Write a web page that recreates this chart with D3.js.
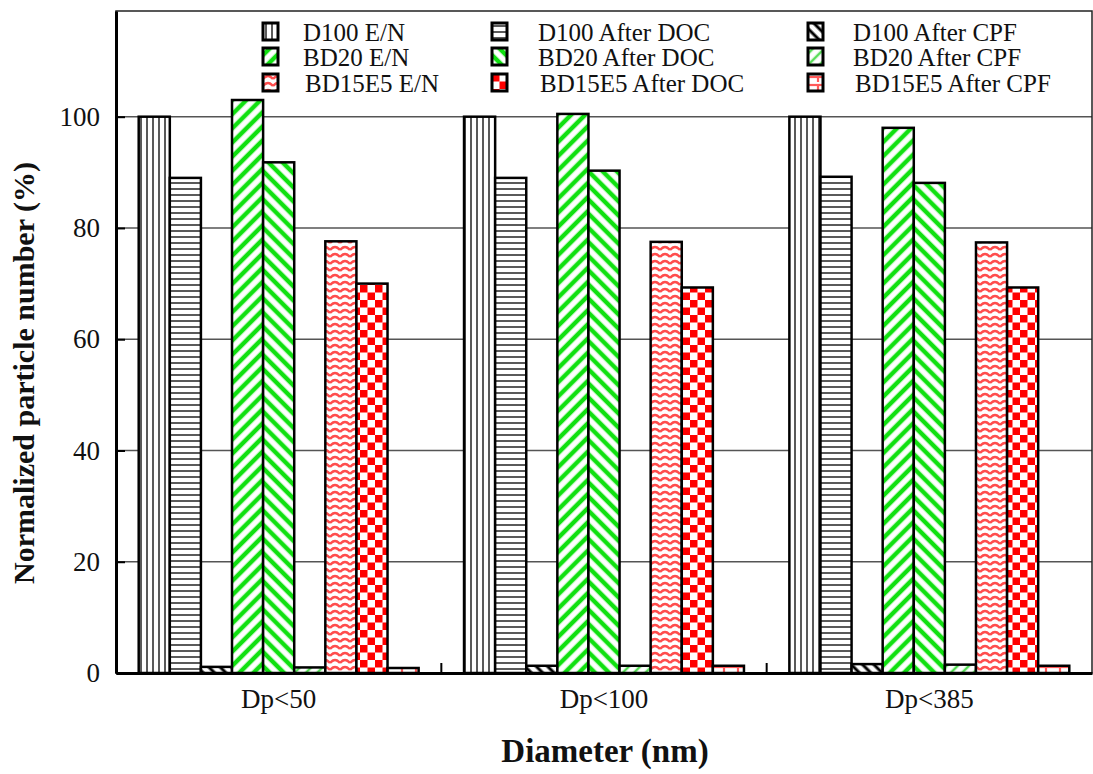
<!DOCTYPE html>
<html>
<head>
<meta charset="utf-8">
<script src="https://cdn.jsdelivr.net/npm/d3@7"></script>
<style>
	body { margin: 0; background: #fff; }
	svg { display: block; }
	text { font-family: 'Liberation Serif', 'Times New Roman', serif; fill: #111; }
</style>
</head>
<body>
<div id="chart"></div>
<script>
const categories = ['Dp<50', 'Dp<100', 'Dp<385'];
const seriesNames = [
	'D100 E/N', 'D100 After DOC', 'D100 After CPF',
	'BD20 E/N', 'BD20 After DOC', 'BD20 After CPF',
	'BD15E5 E/N', 'BD15E5 After DOC', 'BD15E5 After CPF'
];
const d100EN = [100, 100, 100];
const d100DOC = [89.0, 89.0, 89.2];
const d100CPF = [1.1, 1.3, 1.6];
const bd20EN = [103.0, 100.5, 98.0];
const bd20DOC = [91.8, 90.3, 88.1];
const bd20CPF = [1.0, 1.3, 1.5];
const bd15EN = [77.6, 77.5, 77.4];
const bd15DOC = [70.0, 69.3, 69.3];
const bd15CPF = [0.9, 1.3, 1.3];
const yTicks = [0, 20, 40, 60, 80, 100];

const seriesValues = [d100EN, d100DOC, d100CPF, bd20EN, bd20DOC, bd20CPF, bd15EN, bd15DOC, bd15CPF];

const width = 1093;
const height = 774;
const margin = { top: 11, right: 1, bottom: 101, left: 116 };

const svg = d3
	.select('#chart')
	.append('svg')
	.attr('width', width)
	.attr('height', height);

// patterns, one per series
const defs = svg.append('defs');

function stripePattern(id, size, color, strokeW, angle) {
	const p = defs
		.append('pattern')
		.attr('id', id)
		.attr('patternUnits', 'userSpaceOnUse')
		.attr('width', size)
		.attr('height', size)
		.attr('patternTransform', `rotate(${angle})`);
	p.append('rect').attr('width', size).attr('height', size).attr('fill', '#fff');
	p
		.append('line')
		.attr('x1', size / 2)
		.attr('x2', size / 2)
		.attr('y1', 0)
		.attr('y2', size)
		.attr('stroke', color)
		.attr('stroke-width', strokeW);
	return p;
}

stripePattern('pat0', 6, '#5a5a5a', 2, 0); // vertical
stripePattern('pat1', 6, '#5a5a5a', 2, 90); // horizontal
stripePattern('pat2', 8, '#000', 3, -45); // backslash
stripePattern('pat3', 10, '#11e011', 4.5, 45); // slash
stripePattern('pat4', 10, '#11e011', 4.5, -45); // backslash
stripePattern('pat5', 8, '#55dd55', 2.5, 45);

// wavy
const wave = defs
	.append('pattern')
	.attr('id', 'pat6')
	.attr('patternUnits', 'userSpaceOnUse')
	.attr('width', 10)
	.attr('height', 7);
wave.append('rect').attr('width', 10).attr('height', 7).attr('fill', '#fff');
wave
	.append('path')
	.attr('d', 'M0,5 Q5,-1 10,5')
	.attr('fill', 'none')
	.attr('stroke', '#ff4d4d')
	.attr('stroke-width', 2.4);

// checkerboard
const check = defs
	.append('pattern')
	.attr('id', 'pat7')
	.attr('patternUnits', 'userSpaceOnUse')
	.attr('width', 15)
	.attr('height', 15);
check.append('rect').attr('width', 15).attr('height', 15).attr('fill', '#fff');
check.append('rect').attr('width', 7.5).attr('height', 7.5).attr('fill', '#ff0000');
check.append('rect').attr('x', 7.5).attr('y', 7.5).attr('width', 7.5).attr('height', 7.5).attr('fill', '#ff0000');

// brick-like
const brick = defs
	.append('pattern')
	.attr('id', 'pat8')
	.attr('patternUnits', 'userSpaceOnUse')
	.attr('width', 14)
	.attr('height', 8);
brick.append('rect').attr('width', 14).attr('height', 8).attr('fill', '#fff');
brick.append('line').attr('x1', 0).attr('x2', 14).attr('y1', 3).attr('y2', 3).attr('stroke', '#ff5a5a').attr('stroke-width', 2.2);
brick.append('line').attr('x1', 10).attr('x2', 10).attr('y1', 3).attr('y2', 8).attr('stroke', '#ff5a5a').attr('stroke-width', 2.2);

// scales
const x0 = d3.scaleBand().domain(categories).range([ margin.left, width - margin.right ]);
const x1 = d3.scaleBand().domain(seriesNames).range([ 0, x0.bandwidth() ]).paddingOuter(0.73);
const y = d3.scaleLinear().domain([ 0, 119 ]).range([ height - margin.bottom, margin.top ]);

// grid lines
svg
	.append('g')
	.selectAll('line')
	.data(yTicks.filter((d) => d > 0))
	.join('line')
	.attr('x1', margin.left)
	.attr('x2', width - margin.right)
	.attr('y1', (d) => y(d))
	.attr('y2', (d) => y(d))
	.attr('stroke', '#555')
	.attr('stroke-width', 1.5);

// bars
const rows = [];
categories.forEach((c, ci) => {
	seriesNames.forEach((s, si) => {
		rows.push({ cat: c, series: s, si: si, value: seriesValues[si][ci] });
	});
});

svg
	.append('g')
	.selectAll('rect')
	.data(rows)
	.join('rect')
	.attr('x', (d) => x0(d.cat) + x1(d.series))
	.attr('y', (d) => y(d.value))
	.attr('width', x1.bandwidth())
	.attr('height', (d) => y(0) - y(d.value))
	.attr('fill', (d) => `url(#pat${d.si})`)
	.attr('stroke', '#000')
	.attr('stroke-width', 2.5);

// frame
svg
	.append('rect')
	.attr('x', margin.left)
	.attr('y', margin.top)
	.attr('width', width - margin.right - margin.left)
	.attr('height', y(0) - margin.top)
	.attr('fill', 'none')
	.attr('stroke', '#222')
	.attr('stroke-width', 1.5);

// left axis
const yAxis = svg
	.append('g')
	.attr('transform', `translate(${margin.left},0)`)
	.call(d3.axisLeft(y).tickValues(yTicks).tickSizeInner(-9).tickSizeOuter(0).tickPadding(16));
yAxis.attr('font-family', null);
yAxis.select('.domain').attr('stroke', '#000').attr('stroke-width', 3);
yAxis.selectAll('.tick line').attr('stroke', '#000').attr('stroke-width', 2);
yAxis.selectAll('.tick text').style('font-size', '27px').attr('fill', '#111');

// bottom axis
const xAxis = svg
	.append('g')
	.attr('transform', `translate(0,${y(0)})`)
	.call(d3.axisBottom(x0).tickSize(0).tickPadding(16));
xAxis.attr('font-family', null);
xAxis.select('.domain').attr('stroke', '#000').attr('stroke-width', 3);
xAxis.selectAll('.tick text').style('font-size', '27px').attr('fill', '#111');

// group separators
svg
	.append('g')
	.selectAll('line')
	.data(categories.slice(1))
	.join('line')
	.attr('x1', (d) => x0(d))
	.attr('x2', (d) => x0(d))
	.attr('y1', y(0))
	.attr('y2', y(0) - 10)
	.attr('stroke', '#000')
	.attr('stroke-width', 2);

// axis titles
svg
	.append('text')
	.attr('transform', `translate(34, ${(margin.top + y(0)) / 2 + 31}) rotate(-90)`)
	.attr('text-anchor', 'middle')
	.style('font-size', '30px')
	.style('font-weight', 'bold')
	.text('Normalized particle number (%)');

svg
	.append('text')
	.attr('x', 605)
	.attr('y', 762)
	.attr('text-anchor', 'middle')
	.style('font-size', '33px')
	.style('font-weight', 'bold')
	.text('Diameter (nm)');

// legend
const legendColX = [ 263, 492, 808 ];
const legendTextX = [ 303, 538, 853 ];
const legendRowY = [ 23, 48, 74 ];

const legend = svg
	.append('g')
	.selectAll('g')
	.data(seriesNames)
	.join('g')
	.attr('transform', (d, i) => `translate(${legendColX[i % 3]}, ${legendRowY[Math.floor(i / 3)]})`);

legend
	.append('rect')
	.attr('width', 15)
	.attr('height', 17)
	.attr('fill', (d, i) => `url(#pat${i})`)
	.attr('stroke', '#000')
	.attr('stroke-width', 3);

legend
	.append('text')
	.attr('x', (d, i) => legendTextX[i % 3] - legendColX[i % 3] + (i >= 6 ? 2 : 0))
	.attr('y', 18)
	.style('font-size', '25px')
	.text((d) => d);
</script>
</body>
</html>
